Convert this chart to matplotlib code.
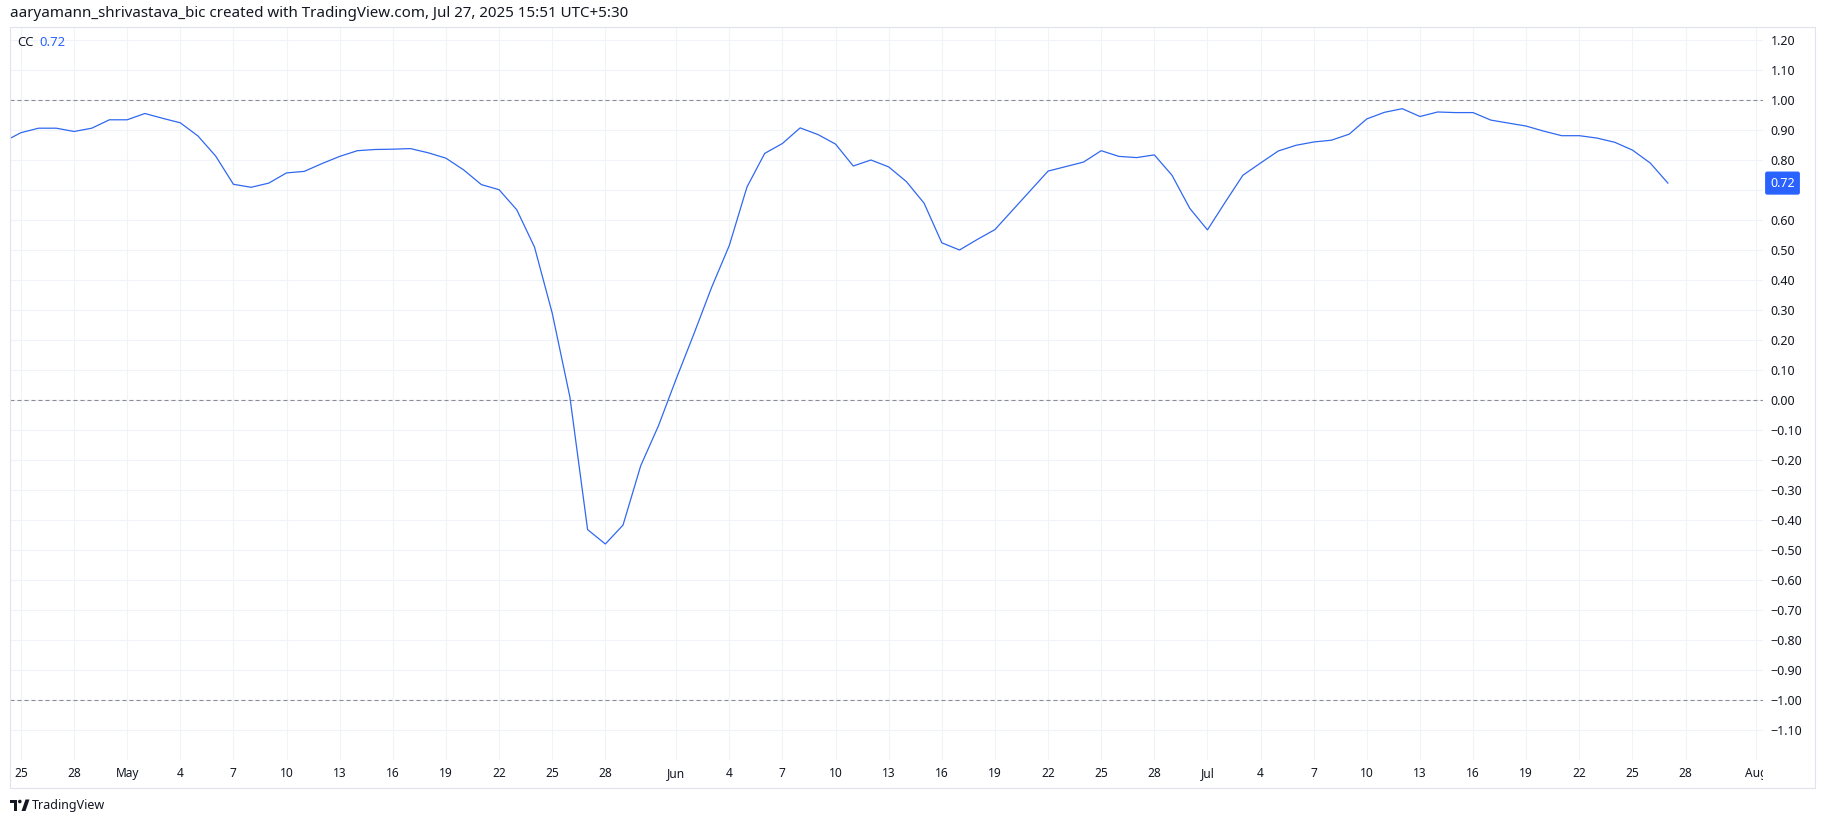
import matplotlib
matplotlib.use("Agg")
import matplotlib.pyplot as plt
import matplotlib.dates as mdates
import matplotlib.patches as mpatches
from matplotlib.ticker import FixedLocator, FuncFormatter
from matplotlib.transforms import Bbox, TransformedBbox
import numpy as np
import pandas as pd

# dados (CC diário, 24 abr -> 27 jul 2025)
datas = pd.date_range("2025-04-24", "2025-07-27", freq="D")
cc = [
    0.860, 0.891, 0.906, 0.906, 0.895, 0.906, 0.934,              # abr 24-30
    0.934, 0.955, 0.939, 0.924, 0.880, 0.813, 0.719, 0.709, 0.723, 0.757,
    0.762, 0.788, 0.812, 0.831, 0.835, 0.836, 0.838, 0.824, 0.806, 0.767,
    0.718, 0.701, 0.634, 0.510, 0.290, 0.010, -0.432, -0.480, -0.417, -0.219,
    -0.086,                                                        # maio
    0.070, 0.220, 0.375, 0.515, 0.710, 0.822, 0.855, 0.907, 0.885, 0.853,
    0.780, 0.800, 0.777, 0.728, 0.656, 0.524, 0.500, 0.535, 0.568, 0.633,
    0.698, 0.763, 0.778, 0.793, 0.831, 0.812, 0.808, 0.817, 0.749, 0.639,  # junho
    0.567, 0.659, 0.749, 0.790, 0.830, 0.849, 0.860, 0.866, 0.886, 0.937,
    0.959, 0.971, 0.945, 0.960, 0.958, 0.958, 0.933, 0.923, 0.913, 0.896,
    0.881, 0.881, 0.873, 0.859, 0.833, 0.790, 0.723,               # julho
]
niveis = [1.0, 0.0, -1.0]
yticks = [round(v / 10, 2) for v in range(-11, 13)]
meses = ["2025-04", "2025-05", "2025-06", "2025-07", "2025-08"]
dias_ticks = [1, 4, 7, 10, 13, 16, 19, 22, 25, 28]
titulo = "aaryamann_shrivastava_bic created with TradingView.com, Jul 27, 2025 15:51 UTC+5:30"

W, H = 1825, 824
AZUL = "#2962FF"
TEXTO = "#131722"

plt.rcParams["font.family"] = ["Noto Sans", "DejaVu Sans"]

def fx(x):
    return x / W

def fy(y):
    return 1 - y / H

fig = plt.figure(figsize=(W / 100, H / 100), dpi=100)
fig.patch.set_facecolor("white")

# área do gráfico em pixels: x 10..1763, y 27..760
ax = fig.add_axes([fx(10), fy(760), fx(1763) - fx(10), fy(27) - fy(760)])
ax.set_facecolor("white")

ax.plot(datas, cc, color="#3068f0", lw=0.9, zorder=3)

for nivel in niveis:
    ax.axhline(nivel, color="#8a8d96", lw=0.8, linestyle=(0, (3.6, 2.7)), zorder=2)

inicio = pd.Timestamp("2025-04-25")
ax.set_xlim(inicio - pd.Timedelta(days=0.615), inicio + pd.Timedelta(days=98.37))
ax.set_ylim(-1.2, 1.2433)

# ticks do eixo x: dias 1,4,...,28 de cada mês, dia 1 com o nome do mês
tick_datas = []
tick_nomes = []
for m in meses:
    for d in dias_ticks:
        t = pd.Timestamp(m + "-%02d" % d)
        if t < inicio or t > pd.Timestamp("2025-08-01"):
            continue
        tick_datas.append(mdates.date2num(t))
        tick_nomes.append(t.strftime("%b") if d == 1 else str(d))
ax.xaxis.set_major_locator(FixedLocator(tick_datas))
ax.set_xticklabels(tick_nomes)

ultimo = cc[-1]

def fmt_y(v, p):
    # o rótulo coberto pela etiqueta do último valor fica escondido
    if abs(v - round(ultimo, 1)) < 1e-9:
        return ""
    return ("%.2f" % v).replace("-", "\u2212")

ax.yaxis.tick_right()
ax.set_yticks(yticks)
ax.yaxis.set_major_formatter(FuncFormatter(fmt_y))

ax.tick_params(axis="x", length=0, pad=5, labelsize=8.6, labelcolor=TEXTO)
ax.tick_params(axis="y", length=0, pad=5.5, labelsize=9.0, labelcolor=TEXTO)
ax.grid(True, color="#f0f3fa", lw=0.8, zorder=0)
for s in ax.spines.values():
    s.set_visible(False)

# corta o rótulo "Aug" na borda da escala de preço
clip = TransformedBbox(Bbox.from_extents(0, 0, fx(1763), 1), fig.transFigure)
for tick in ax.xaxis.get_major_ticks():
    tick.label1.set_clip_box(clip)
    tick.label1.set_clip_on(True)

# etiqueta do último valor
ax.annotate("%.2f" % ultimo, xy=(1, ultimo), xycoords=("axes fraction", "data"),
            xytext=(19.5, 0), textcoords="offset pixels", ha="center", va="center",
            fontsize=9.0, fontweight="bold", color="white", annotation_clip=False,
            bbox=dict(boxstyle="round,pad=0.35,rounding_size=0.12", fc=AZUL, ec=AZUL), zorder=10)

# moldura do painel
fig.add_artist(mpatches.Rectangle((fx(10), fy(788)), fx(1815) - fx(10), fy(27) - fy(788),
                                  transform=fig.transFigure, fill=False, ec="#e0e3eb", lw=0.8))

# textos
fig.text(fx(10), fy(13.5), titulo, fontsize=10.9, color=TEXTO, va="center", ha="left")
fig.text(fx(17), fy(42), "CC", fontsize=9.4, color=TEXTO, va="center", ha="left")
fig.text(fx(39), fy(42), "%.2f" % ultimo, fontsize=9.4, color=AZUL, va="center", ha="left")

# logo TradingView
fig.add_artist(mpatches.Rectangle((fx(10), fy(803)), fx(17) - fx(10), fy(799.5) - fy(803),
                                  transform=fig.transFigure, fc=TEXTO, ec="none"))
fig.add_artist(mpatches.Rectangle((fx(13.5), fy(811)), fx(17) - fx(13.5), fy(799.5) - fy(811),
                                  transform=fig.transFigure, fc=TEXTO, ec="none"))
fig.add_artist(mpatches.Ellipse((fx(19.8), fy(801.5)), fx(3.6), 3.6 / H,
                                transform=fig.transFigure, fc=TEXTO, ec="none"))
fig.add_artist(mpatches.Polygon([(fx(21.5), fy(811)), (fx(25.5), fy(811)),
                                 (fx(29.5), fy(799.5)), (fx(25.5), fy(799.5))],
                                transform=fig.transFigure, fc=TEXTO, ec="none"))
fig.text(fx(32), fy(805.5), "TradingView", fontsize=9.0, color=TEXTO, va="center", ha="left")

fig.savefig("out.png", dpi=100, facecolor="white")
